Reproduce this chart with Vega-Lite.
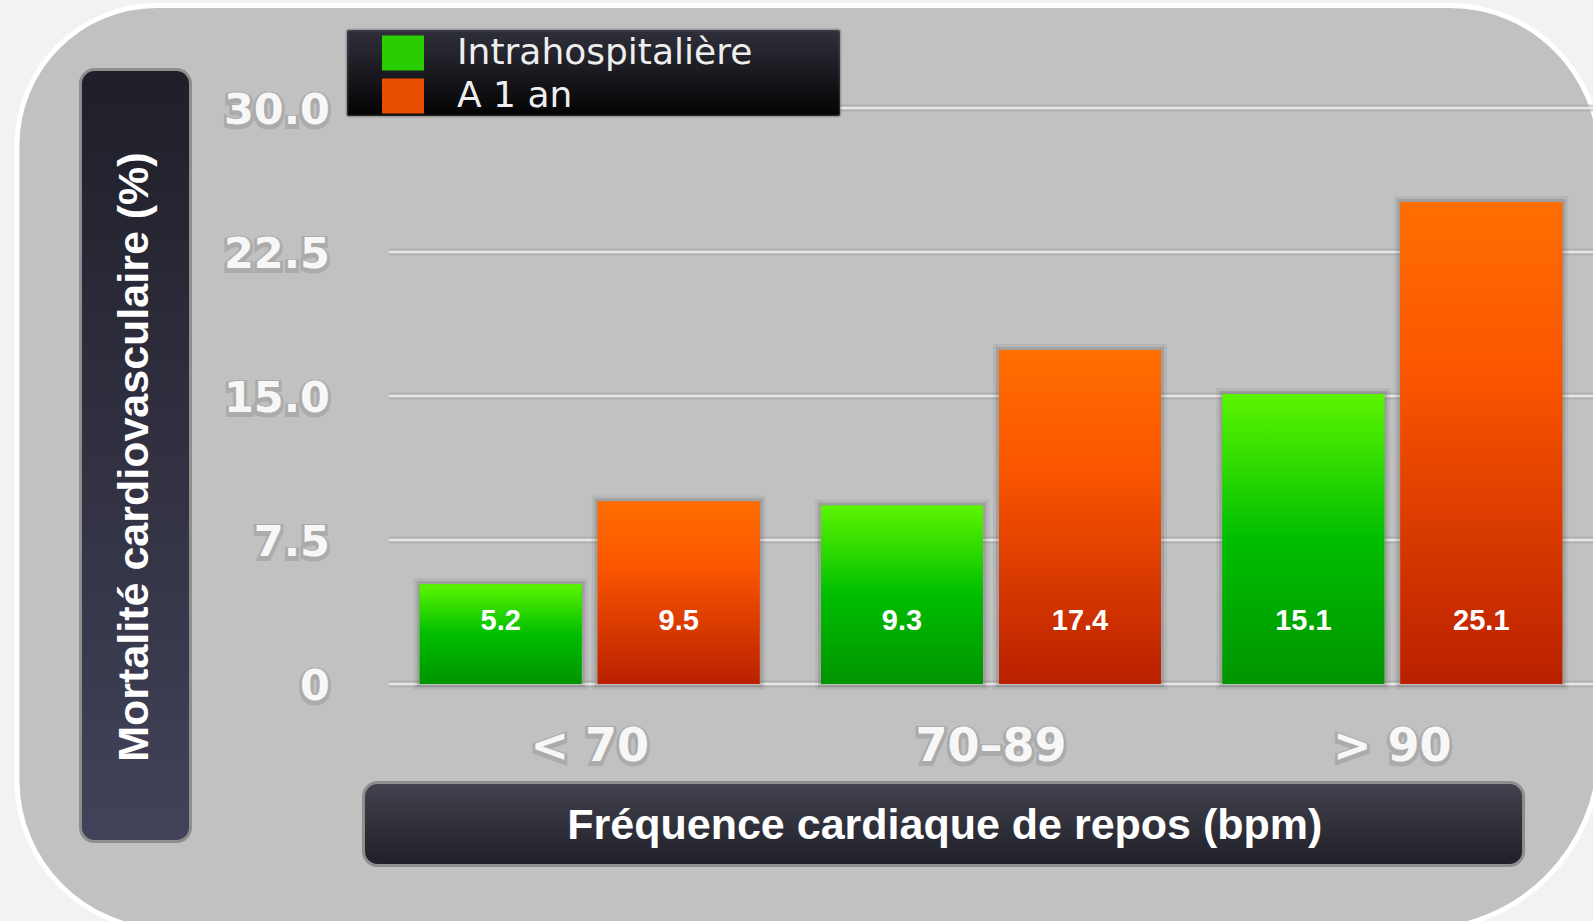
{
  "$schema": "https://vega.github.io/schema/vega-lite/v6.json",
  "width": 1204,
  "height": 576,
  "autosize": {"type": "none"},
  "padding": {"left": 389, "top": 108, "right": 0, "bottom": 237},
  "background": "#f2f2f2",
  "config": {"view": {"stroke": null}},
  "datasets": {
    "bars": [
      {"groupe": "< 70", "serie": "Intrahospitalière", "valeur": 5.2},
      {"groupe": "< 70", "serie": "A 1 an", "valeur": 9.5},
      {"groupe": "70–89", "serie": "Intrahospitalière", "valeur": 9.3},
      {"groupe": "70–89", "serie": "A 1 an", "valeur": 17.4},
      {"groupe": "> 90", "serie": "Intrahospitalière", "valeur": 15.1},
      {"groupe": "> 90", "serie": "A 1 an", "valeur": 25.1}
    ],
    "ticks": [
      {"v": 0, "label": "0"},
      {"v": 7.5, "label": "7.5"},
      {"v": 15, "label": "15.0"},
      {"v": 22.5, "label": "22.5"},
      {"v": 30, "label": "30.0"}
    ],
    "categories": [
      {"groupe": "< 70"},
      {"groupe": "70–89"},
      {"groupe": "> 90"}
    ],
    "single": [{}]
  },
  "resolve": {"scale": {"x": "independent"}},
  "layer": [
    {
      "data": {"name": "single"},
      "mark": {"type": "rect", "fill": "#c1c1c1", "stroke": "#ffffff", "strokeWidth": 5,
        "cornerRadiusTopLeft": 140, "cornerRadiusTopRight": 150, "cornerRadiusBottomLeft": 150, "cornerRadiusBottomRight": 180},
      "encoding": {
        "x": {"datum": -0.927, "type": "quantitative", "scale": {"domain": [0, 3], "nice": false, "zero": false}, "axis": null},
        "x2": {"datum": 3.017},
        "y": {"datum": 35.34, "type": "quantitative", "scale": {"domain": [0, 30], "nice": false}, "axis": null},
        "y2": {"datum": -12.81}
      }
    },
    {
      "data": {"name": "single"},
      "mark": {"type": "rect", "cornerRadius": 14, "stroke": "#8e8e8e", "strokeWidth": 3,
        "fill": {"gradient": "linear", "x1": 0, "y1": 0, "x2": 0, "y2": 1,
          "stops": [{"offset": 0, "color": "#1f1f29"}, {"offset": 1, "color": "#42425a"}]}},
      "encoding": {
        "x": {"datum": -0.7687, "type": "quantitative", "scale": {"domain": [0, 3], "nice": false, "zero": false}, "axis": null},
        "x2": {"datum": -0.4946},
        "y": {"datum": 32.0, "type": "quantitative", "scale": {"domain": [0, 30], "nice": false}, "axis": null},
        "y2": {"datum": -8.2}
      }
    },
    {
      "data": {"name": "single"},
      "mark": {"type": "rect", "cornerRadius": 14, "stroke": "#8e8e8e", "strokeWidth": 3,
        "fill": {"gradient": "linear", "x1": 0, "y1": 0, "x2": 0, "y2": 1,
          "stops": [{"offset": 0, "color": "#43434f"}, {"offset": 1, "color": "#1f1f29"}]}},
      "encoding": {
        "x": {"datum": -0.0635, "type": "quantitative", "scale": {"domain": [0, 3], "nice": false, "zero": false}, "axis": null},
        "x2": {"datum": 2.827},
        "y": {"datum": -5.13, "type": "quantitative", "scale": {"domain": [0, 30], "nice": false}, "axis": null},
        "y2": {"datum": -9.45}
      }
    },
    {
      "data": {"name": "ticks"},
      "mark": {"type": "rule", "stroke": "#9c9c9c", "strokeWidth": 7, "strokeOpacity": 0.45},
      "encoding": {
        "y": {"field": "v", "type": "quantitative", "scale": {"domain": [0, 30], "nice": false}, "axis": null}
      }
    },
    {
      "data": {"name": "ticks"},
      "mark": {"type": "rule", "stroke": "#e8e8e8", "strokeWidth": 2.5},
      "encoding": {
        "y": {"field": "v", "type": "quantitative", "scale": {"domain": [0, 30], "nice": false}, "axis": null}
      }
    },
    {
      "data": {"name": "single"},
      "mark": {"type": "rect", "cornerRadius": 2, "stroke": "#5a5a5a", "strokeWidth": 3, "strokeOpacity": 0.35,
        "fill": {"gradient": "linear", "x1": 0, "y1": 0, "x2": 0, "y2": 1,
          "stops": [{"offset": 0, "color": "#30303c"}, {"offset": 1, "color": "#030303"}]}},
      "encoding": {
        "x": {"datum": -0.1047, "type": "quantitative", "scale": {"domain": [0, 3], "nice": false, "zero": false}, "axis": null},
        "x2": {"datum": 1.1238},
        "y": {"datum": 34.06, "type": "quantitative", "scale": {"domain": [0, 30], "nice": false}, "axis": null},
        "y2": {"datum": 29.58}
      }
    },
    {
      "data": {"name": "bars"},
      "mark": {"type": "bar", "fill": "#555555", "fillOpacity": 0, "stroke": "#333333", "strokeWidth": 12, "strokeOpacity": 0.08},
      "encoding": {
        "x": {"field": "groupe", "type": "nominal", "scale": {"domain": ["< 70", "70–89", "> 90"], "paddingInner": 0.153, "paddingOuter": 0.0765}, "axis": null},
        "xOffset": {"field": "serie", "type": "nominal", "scale": {"domain": ["Intrahospitalière", "A 1 an"], "paddingInner": 0.09, "paddingOuter": 0}},
        "y": {"field": "valeur", "type": "quantitative", "stack": null, "scale": {"domain": [0, 30], "nice": false}, "axis": null}
      }
    },
    {
      "data": {"name": "bars"},
      "mark": {"type": "bar", "fill": "#555555", "fillOpacity": 0, "stroke": "#333333", "strokeWidth": 6, "strokeOpacity": 0.16},
      "encoding": {
        "x": {"field": "groupe", "type": "nominal", "scale": {"domain": ["< 70", "70–89", "> 90"], "paddingInner": 0.153, "paddingOuter": 0.0765}, "axis": null},
        "xOffset": {"field": "serie", "type": "nominal", "scale": {"domain": ["Intrahospitalière", "A 1 an"], "paddingInner": 0.09, "paddingOuter": 0}},
        "y": {"field": "valeur", "type": "quantitative", "stack": null, "scale": {"domain": [0, 30], "nice": false}, "axis": null}
      }
    },
    {
      "data": {"name": "bars"},
      "mark": {"type": "bar"},
      "encoding": {
        "x": {"field": "groupe", "type": "nominal", "scale": {"domain": ["< 70", "70–89", "> 90"], "paddingInner": 0.153, "paddingOuter": 0.0765}, "axis": null},
        "xOffset": {"field": "serie", "type": "nominal", "scale": {"domain": ["Intrahospitalière", "A 1 an"], "paddingInner": 0.09, "paddingOuter": 0}},
        "y": {"field": "valeur", "type": "quantitative", "stack": null, "scale": {"domain": [0, 30], "nice": false}, "axis": null},
        "color": {"field": "serie", "type": "nominal",
          "scale": {"domain": ["Intrahospitalière", "A 1 an"], "range": ["#2acd00", "#ea4e00"]},
          "legend": {"title": null, "orient": "none", "legendX": -4, "legendY": -73,
            "symbolType": "M-1.2,-1L1.2,-1L1.2,1L-1.2,1Z", "symbolSize": 1225, "symbolStrokeWidth": 0, "symbolOpacity": 1,
            "labelFont": "DejaVu Sans", "labelFontSize": 36, "labelColor": "#eeeeee",
            "labelOffset": 36, "rowPadding": 7, "padding": 0, "labelLimit": 0}}
      }
    },
    {
      "data": {"name": "bars"},
      "transform": [{"filter": "datum.serie === 'Intrahospitalière'"}],
      "mark": {"type": "bar",
        "fill": {"gradient": "linear", "x1": 0, "y1": 0, "x2": 0, "y2": 1,
          "stops": [{"offset": 0, "color": "#5cf500"}, {"offset": 0.5, "color": "#00be00"}, {"offset": 1, "color": "#009400"}]}},
      "encoding": {
        "x": {"field": "groupe", "type": "nominal", "scale": {"domain": ["< 70", "70–89", "> 90"], "paddingInner": 0.153, "paddingOuter": 0.0765}, "axis": null},
        "xOffset": {"field": "serie", "type": "nominal", "scale": {"domain": ["Intrahospitalière", "A 1 an"], "paddingInner": 0.09, "paddingOuter": 0}},
        "y": {"field": "valeur", "type": "quantitative", "stack": null, "scale": {"domain": [0, 30], "nice": false}, "axis": null}
      }
    },
    {
      "data": {"name": "bars"},
      "transform": [{"filter": "datum.serie === 'A 1 an'"}],
      "mark": {"type": "bar",
        "fill": {"gradient": "linear", "x1": 0, "y1": 0, "x2": 0, "y2": 1,
          "stops": [{"offset": 0, "color": "#ff6e00"}, {"offset": 0.35, "color": "#fb5600"}, {"offset": 1, "color": "#b92000"}]}},
      "encoding": {
        "x": {"field": "groupe", "type": "nominal", "scale": {"domain": ["< 70", "70–89", "> 90"], "paddingInner": 0.153, "paddingOuter": 0.0765}, "axis": null},
        "xOffset": {"field": "serie", "type": "nominal", "scale": {"domain": ["Intrahospitalière", "A 1 an"], "paddingInner": 0.09, "paddingOuter": 0}},
        "y": {"field": "valeur", "type": "quantitative", "stack": null, "scale": {"domain": [0, 30], "nice": false}, "axis": null}
      }
    },
    {
      "data": {"name": "bars"},
      "mark": {"type": "text", "font": "Liberation Sans", "fontWeight": "bold", "fontSize": 29, "color": "#ffffff", "align": "center", "baseline": "middle"},
      "encoding": {
        "x": {"field": "groupe", "type": "nominal", "scale": {"domain": ["< 70", "70–89", "> 90"], "paddingInner": 0.153, "paddingOuter": 0.0765}, "axis": null},
        "xOffset": {"field": "serie", "type": "nominal", "scale": {"domain": ["Intrahospitalière", "A 1 an"], "paddingInner": 0.09, "paddingOuter": 0}},
        "y": {"datum": 3.28, "type": "quantitative", "scale": {"domain": [0, 30], "nice": false}, "axis": null},
        "text": {"field": "valeur", "type": "quantitative", "format": ".1f"}
      }
    },
    {
      "data": {"name": "ticks"},
      "mark": {"type": "text", "font": "DejaVu Sans", "fontWeight": "bold", "fontSize": 43, "color": "#333333", "stroke": "#333333", "strokeWidth": 6, "opacity": 0.15, "align": "right", "baseline": "middle", "dy": 5},
      "encoding": {
        "x": {"datum": -0.147, "type": "quantitative", "scale": {"domain": [0, 3], "nice": false, "zero": false}, "axis": null},
        "y": {"field": "v", "type": "quantitative", "scale": {"domain": [0, 30], "nice": false}, "axis": null},
        "text": {"field": "label", "type": "nominal"}
      }
    },
    {
      "data": {"name": "ticks"},
      "mark": {"type": "text", "font": "DejaVu Sans", "fontWeight": "bold", "fontSize": 43, "color": "#f7f7f7", "align": "right", "baseline": "middle", "dy": 3},
      "encoding": {
        "x": {"datum": -0.147, "type": "quantitative", "scale": {"domain": [0, 3], "nice": false, "zero": false}, "axis": null},
        "y": {"field": "v", "type": "quantitative", "scale": {"domain": [0, 30], "nice": false}, "axis": null},
        "text": {"field": "label", "type": "nominal"}
      }
    },
    {
      "data": {"name": "categories"},
      "mark": {"type": "text", "font": "DejaVu Sans", "fontWeight": "bold", "fontSize": 46, "color": "#333333", "stroke": "#333333", "strokeWidth": 6, "opacity": 0.15, "align": "center", "baseline": "middle", "dy": 4},
      "encoding": {
        "x": {"field": "groupe", "type": "nominal", "scale": {"domain": ["< 70", "70–89", "> 90"], "paddingInner": 0.153, "paddingOuter": 0.0765}, "axis": null},
        "y": {"datum": -3.18, "type": "quantitative", "scale": {"domain": [0, 30], "nice": false}, "axis": null},
        "text": {"field": "groupe", "type": "nominal"}
      }
    },
    {
      "data": {"name": "categories"},
      "mark": {"type": "text", "font": "DejaVu Sans", "fontWeight": "bold", "fontSize": 46, "color": "#f7f7f7", "align": "center", "baseline": "middle", "dy": 2},
      "encoding": {
        "x": {"field": "groupe", "type": "nominal", "scale": {"domain": ["< 70", "70–89", "> 90"], "paddingInner": 0.153, "paddingOuter": 0.0765}, "axis": null},
        "y": {"datum": -3.18, "type": "quantitative", "scale": {"domain": [0, 30], "nice": false}, "axis": null},
        "text": {"field": "groupe", "type": "nominal"}
      }
    },
    {
      "data": {"name": "single"},
      "mark": {"type": "text", "text": "Mortalité cardiovasculaire (%)", "angle": 270, "font": "Liberation Sans", "fontWeight": "bold", "fontSize": 43, "color": "#ffffff", "align": "center", "baseline": "middle"},
      "encoding": {
        "x": {"datum": -0.633, "type": "quantitative", "scale": {"domain": [0, 3], "nice": false, "zero": false}, "axis": null},
        "y": {"datum": 11.82, "type": "quantitative", "scale": {"domain": [0, 30], "nice": false}, "axis": null}
      }
    },
    {
      "data": {"name": "single"},
      "mark": {"type": "text", "text": "Fréquence cardiaque de repos (bpm)", "font": "Liberation Sans", "fontWeight": "bold", "fontSize": 43, "color": "#ffffff", "align": "center", "baseline": "middle"},
      "encoding": {
        "x": {"datum": 1.385, "type": "quantitative", "scale": {"domain": [0, 3], "nice": false, "zero": false}, "axis": null},
        "y": {"datum": -7.4, "type": "quantitative", "scale": {"domain": [0, 30], "nice": false}, "axis": null}
      }
    }
  ]
}
